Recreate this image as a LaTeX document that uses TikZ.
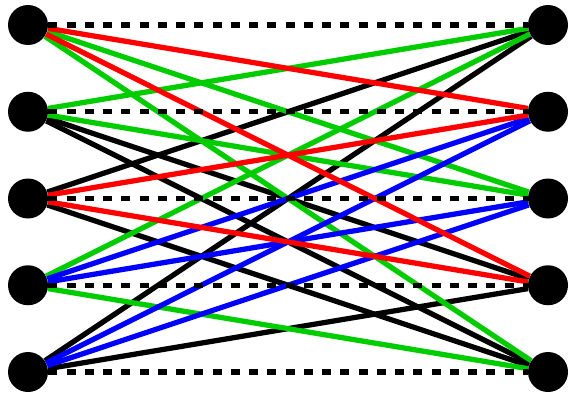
\documentclass[tikz,border=0pt]{standalone}
\usepackage{tikz}
\usetikzlibrary{positioning}
\definecolor{EdgeRed}{HTML}{FF0000}
\definecolor{EdgeGreen}{HTML}{00CC00}
\definecolor{EdgeBlue}{HTML}{0000FF}

\begin{document}
\begin{tikzpicture}[
      vertex/.style={circle,fill=black,inner sep=0pt,minimum size=0.8cm},
      edge/.style={line width=0.105cm},
      matchedge/.style={edge,black,dash pattern=on 0.18cm off 0.185cm}
    ]
      \useasboundingbox (0,0) rectangle (11.38,-7.88);
      % left and right columns
      \foreach \i in {1,...,5} {
        \node[vertex] (l\i) at (0.56,{-0.5-1.735*(\i-1)}) {};
        \node[vertex] (r\i) at (10.96,{-0.5-1.735*(\i-1)}) {};
      }

      \foreach \a/\b in {l2/r4,l2/r5,l3/r1,l3/r5,l5/r1,l5/r4}
        \draw[edge,black] (\a) -- (\b);
      \foreach \a/\b in {l1/r3,l1/r5,l2/r1,l2/r3,l4/r1,l4/r5}
        \draw[edge,EdgeGreen] (\a) -- (\b);
      \foreach \a/\b in {l4/r2,l4/r3,l5/r2,l5/r3}
        \draw[edge,EdgeBlue] (\a) -- (\b);
      \foreach \a/\b in {l1/r2,l1/r4,l3/r2,l3/r4}
        \draw[edge,EdgeRed] (\a) -- (\b);

      % dashed matching
      \foreach \i in {1,...,5}
        \draw[matchedge] (l\i) -- (r\i);
    \end{tikzpicture}
\end{document}
